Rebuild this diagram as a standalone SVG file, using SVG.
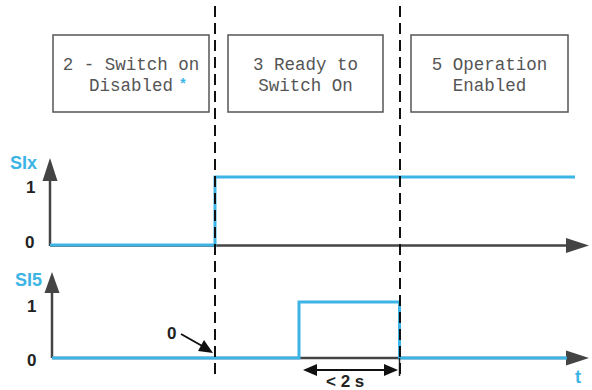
<svg xmlns="http://www.w3.org/2000/svg" width="592" height="390" viewBox="0 0 592 390">
<style>
.box{fill:#fff;stroke:#555;stroke-width:1.5}
.bt{font-family:"Liberation Mono",monospace;font-size:17.5px;fill:#555;text-anchor:middle}
.dash{stroke:#111;stroke-width:2;stroke-dasharray:11 6;fill:none}
.axis{stroke:#444;stroke-width:2.5;fill:none}
.sig{stroke:#3cb4e5;stroke-width:3;fill:none}
.lbl{font-family:"Liberation Sans",Arial,sans-serif;font-size:17px;font-weight:bold;fill:#222}
.blbl{font-family:"Liberation Sans",Arial,sans-serif;font-size:18px;font-weight:bold;fill:#3cb4e5}
</style>
<g id="box1"><rect class="box" x="53" y="35" width="156" height="77"/>
<text class="bt" x="131" y="70">2 - Switch on</text>
<text class="bt" x="131" y="91">Disabled</text>
<text x="183" y="89" font-family="Liberation Mono,monospace" font-size="14" font-weight="bold" fill="#3cb4e5" text-anchor="middle">*</text></g>
<g id="box2"><rect class="box" x="228" y="35" width="155" height="77"/>
<text class="bt" x="305.5" y="70">3 Ready to</text>
<text class="bt" x="305.5" y="91">Switch On</text></g>
<g id="box3"><rect class="box" x="411" y="35" width="157" height="77"/>
<text class="bt" x="489.5" y="70">5 Operation</text>
<text class="bt" x="489.5" y="91">Enabled</text></g>
<g id="connectors">
<line class="axis" x1="50" y1="246" x2="50" y2="178"/>
<path d="M42.5,181 L50,158 L57.5,181 z" fill="#444"/>
<line class="axis" x1="50" y1="245.5" x2="568" y2="245.5"/>
<path d="M566,238 L589,245.5 L566,253 z" fill="#444"/>
<path class="sig" d="M50,245 H215 V177 H575"/>
<line class="axis" x1="52" y1="358" x2="52" y2="290"/>
<path d="M44.5,293 L52,272 L59.5,293 z" fill="#444"/>
<line class="axis" x1="52" y1="358" x2="568" y2="358"/>
<path d="M566,350.5 L589,358 L566,365.5 z" fill="#444"/>
<path class="sig" d="M52,358 H299 V302 H399.5 V358 H567"/>
<line stroke="#222" stroke-width="1.5" x1="399.5" y1="358" x2="399.5" y2="376"/>
<line stroke="#111" stroke-width="2" x1="312" y1="370" x2="389" y2="370"/>
<path d="M303,370 L317,364 L317,376 z" fill="#111"/>
<path d="M398,370 L384,364 L384,376 z" fill="#111"/>
<line stroke="#111" stroke-width="2" x1="181" y1="334" x2="204" y2="347"/>
<path d="M213,353 L198,351 L204,340 z" fill="#111"/>
<line class="dash" x1="215" y1="6" x2="215" y2="375"/>
<line class="dash" x1="400" y1="6" x2="400" y2="375"/>
</g>
<g id="labels">
<text class="blbl" x="10" y="169">SIx</text>
<text class="lbl" x="26" y="193">1</text>
<text class="lbl" x="25" y="248">0</text>
<text class="blbl" x="15" y="286">SI5</text>
<text class="lbl" x="27" y="312">1</text>
<text class="lbl" x="27" y="366">0</text>
<text class="lbl" x="167" y="339">0</text>
<text class="lbl" x="326" y="387">&lt; 2 s</text>
<text class="blbl" x="575" y="383">t</text>
</g>
</svg>
